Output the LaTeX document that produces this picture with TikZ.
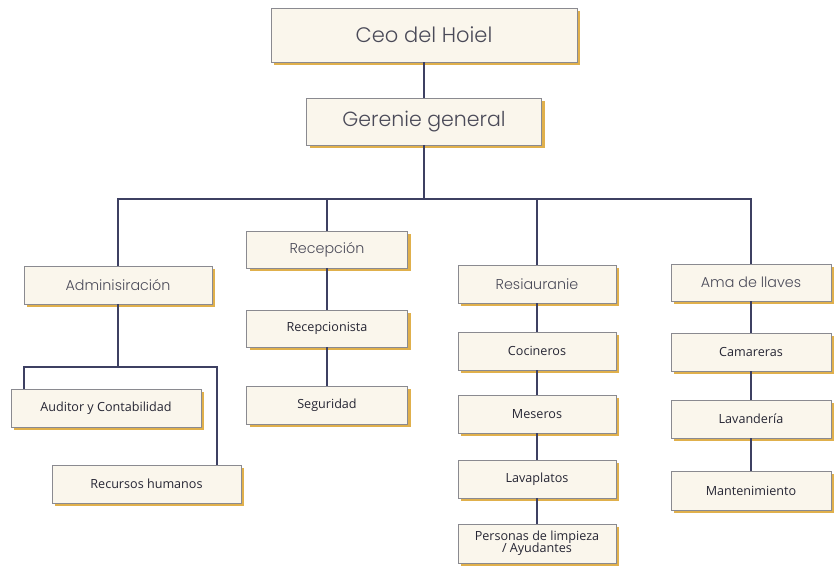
\documentclass[tikz,border=0pt]{standalone}
\usepackage{fontspec}
\setmainfont{Open Sans}
\newfontfamily\headfont{Poppins Light}
\usetikzlibrary{shadows}
\definecolor{cream}{HTML}{FAF6EC}
\definecolor{goldsh}{HTML}{E0B04C}
\definecolor{boxline}{HTML}{8A8A90}
\definecolor{conncol}{HTML}{3D4062}
\definecolor{headtxt}{HTML}{4A4A58}
\definecolor{smalltxt}{HTML}{262634}
\tikzset{
  box/.style={draw=boxline, line width=0.6pt, fill=cream, inner sep=0pt, align=center,
    drop shadow={shadow xshift=3pt, shadow yshift=-3pt, fill=goldsh, opacity=1}},
  bigbox/.style={box, font=\headfont\fontsize{21}{25}\selectfont, text=headtxt},
  midbox/.style={box, font=\headfont\fontsize{20.5}{24}\selectfont, text=headtxt},
  hbox/.style={box, font=\headfont\fontsize{14.3}{17}\selectfont, text=headtxt},
  sbox/.style={box, font=\fontsize{12.6}{14}\selectfont, text=smalltxt},
  conn/.style={draw=conncol, line width=1.7pt}
}
\begin{document}
\begin{tikzpicture}[x=1pt,y=-1pt]
\useasboundingbox[fill=white] (0,0) rectangle (834,571);
\coordinate (b) at (0,199);
\coordinate (ja) at (24,367);
\coordinate (jr) at (217,367);
% nodes
\node[bigbox, minimum width=306, minimum height=54] (ceo) at (424,35) {Ceo del Hoiel};
\node[midbox, minimum width=235, minimum height=47] (ger) at (424,121.5) {Gerenie general};
\node[hbox, minimum width=188, minimum height=38] (adm) at (118,285) {Adminisiración};
\node[hbox, minimum width=161, minimum height=37] (rec) at (327,249.5) {Recepción};
\node[hbox, minimum width=158, minimum height=38] (res) at (537,284) {Resiauranie};
\node[hbox, minimum width=160, minimum height=37] (ama) at (751,282.5) {Ama de llaves};
\node[sbox, minimum width=161, minimum height=37] (recp) at (327,328.5) {Recepcionista};
\node[sbox, minimum width=161, minimum height=38] (seg) at (327,405) {Seguridad};
\node[sbox, minimum width=190, minimum height=38] (aud) at (106,408) {Auditor y Contabilidad};
\node[sbox, minimum width=189, minimum height=38] (rh) at (146.5,484) {Recursos humanos};
\node[sbox, minimum width=158, minimum height=38] (coc) at (537,351) {Cocineros};
\node[sbox, minimum width=158, minimum height=38] (mes) at (537,414) {Meseros};
\node[sbox, minimum width=158, minimum height=38] (lav) at (537,479) {Lavaplatos};
\node[sbox, minimum width=158, minimum height=39] (per) at (537,543.5) {Personas de limpieza\\[-2pt] / Ayudantes};
\node[sbox, minimum width=160, minimum height=38] (cam) at (751,352) {Camareras};
\node[sbox, minimum width=160, minimum height=38] (lvd) at (751,419) {Lavandería};
\node[sbox, minimum width=160, minimum height=39] (man) at (751,490.5) {Mantenimiento};
% connectors
\draw[conn] (ceo.south) -- (ger.north);
\draw[conn] (ger.south) -- (ger.south |- b);
\draw[conn] (adm.north) -- (adm.north |- b) -- (ama.north |- b) -- (ama.north);
\draw[conn] (rec.north) -- (rec.north |- b);
\draw[conn] (res.north) -- (res.north |- b);
\draw[conn] (adm.south) -- (adm.south |- ja);
\draw[conn] (ja |- aud.north) -- (ja) -- (jr) -- (jr |- rh.north);
\draw[conn] (rec.south) -- (recp.north);
\draw[conn] (recp.south) -- (seg.north);
\draw[conn] (res.south) -- (coc.north);
\draw[conn] (coc.south) -- (mes.north);
\draw[conn] (mes.south) -- (lav.north);
\draw[conn] (lav.south) -- (per.north);
\draw[conn] (ama.south) -- (cam.north);
\draw[conn] (cam.south) -- (lvd.north);
\draw[conn] (lvd.south) -- (man.north);
\end{tikzpicture}
\end{document}
